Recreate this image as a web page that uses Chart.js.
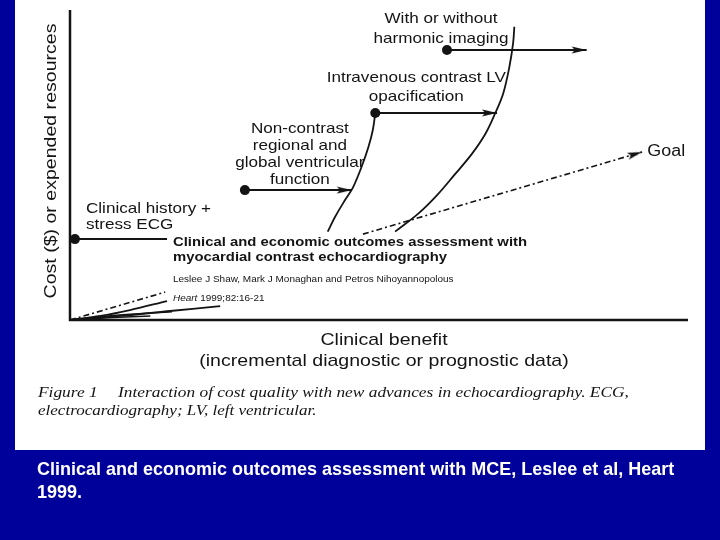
<!DOCTYPE html>
<html>
<head>
<meta charset="utf-8">
<script src="https://cdn.jsdelivr.net/npm/chart.js@4/dist/chart.umd.min.js"></script>
<style>
  html, body { margin: 0; padding: 0; background: #00009a; }
  canvas { display: block; }
</style>
</head>
<body>
<canvas id="chart" width="720" height="540"></canvas>
<script>
// Benefit (x) and cost (y) on a 0-100 scale.
// Steps: a dot where the test starts and an arrow to where it ends.
const STEP_LABELS = [
  ['Clinical history +', 'stress ECG'],
  ['Non-contrast', 'regional and', 'global ventricular', 'function'],
  ['Intravenous contrast LV', 'opacification'],
  ['With or without', 'harmonic imaging'],
];
const STEP_START_X = [0.8, 28.3, 49.4, 61.0];
const STEP_END_X = [15.7, 45.6, 69.1, 83.6];
const STEP_Y = [26.1, 41.9, 66.8, 87.1];
const STEP_ARROW = [false, true, true, true];

// cost curves; y: null is where the journal header hides the line
const CURVE_A = [
  { x: 0, y: 0 }, { x: 4.9, y: 1.3 }, { x: 9.7, y: 3.2 }, { x: 15.7, y: 6.1 },
  { x: 30, y: null },
  { x: 41.7, y: 28.5 }, { x: 42.9, y: 33.3 }, { x: 44.5, y: 38.7 }, { x: 45.8, y: 42.8 },
  { x: 47.2, y: 49.5 }, { x: 48.3, y: 55.9 }, { x: 49.0, y: 61.3 }, { x: 49.4, y: 66.8 },
];
const CURVE_B = [
  { x: 0, y: 0 }, { x: 8.1, y: 1.3 }, { x: 16.2, y: 2.9 }, { x: 24.3, y: 4.5 },
  { x: 40, y: null },
  { x: 52.6, y: 28.5 }, { x: 56.4, y: 34.4 }, { x: 59.4, y: 40.3 }, { x: 62.2, y: 46.8 },
  { x: 65.0, y: 53.5 }, { x: 67.2, y: 60.0 }, { x: 68.8, y: 66.7 }, { x: 70.1, y: 73.1 },
  { x: 71.1, y: 81.7 }, { x: 71.7, y: 89.3 }, { x: 71.9, y: 94.6 },
];
const CURVE_C = [{ x: 0, y: 0 }, { x: 8, y: 1.6 }, { x: 16.5, y: 2.7 }];
const CURVE_D = [{ x: 0, y: 0 }, { x: 7, y: 0.8 }, { x: 13, y: 1.3 }];
const GOAL = [
  { x: 0, y: 0 }, { x: 15.4, y: 9.0 },
  { x: 30, y: null },
  { x: 47.4, y: 27.7 }, { x: 92.6, y: 54.2 },
];

const AXIS_X_TITLE = ['Clinical benefit', '(incremental diagnostic or prognostic data)'];
const AXIS_Y_TITLE = 'Cost ($) or expended resources';
const HEADER = [
  'Clinical and economic outcomes assessment with',
  'myocardial contrast echocardiography',
  'Leslee J Shaw, Mark J Monaghan and Petros Nihoyannopolous',
];
const HEADER_REF = ['Heart', ' 1999;82:16-21'];
const CAPTION = [
  'Figure 1',
  'Interaction of cost quality with new advances in echocardiography. ECG,',
  'electrocardiography; LV, left ventricular.',
];
const SLIDE_TEXT = [
  'Clinical and economic outcomes assessment with MCE, Leslee et al, Heart',
  '1999.',
];

const INK = '#141414';
const BG = '#00009a';
const SANS = '"Liberation Sans", Arial, sans-serif';
const SERIF = '"Liberation Serif", "Times New Roman", serif';

// narrow arrow head, tip at the centre of the canvas
function arrowHead() {
  const c = document.createElement('canvas');
  c.width = 32; c.height = 10;
  const g = c.getContext('2d');
  g.fillStyle = INK;
  g.beginPath();
  g.moveTo(16, 5);
  g.lineTo(1, 1.5);
  g.lineTo(4, 5);
  g.lineTo(1, 8.5);
  g.closePath();
  g.fill();
  return c;
}
const HEAD = arrowHead();

// the scanned figure uses a wide face, so stretch text sideways
function wideText(ctx, text, x, y, sx, align) {
  ctx.save();
  ctx.translate(x, y);
  ctx.scale(sx, 1);
  ctx.textAlign = align;
  ctx.fillText(text, 0, 0);
  ctx.restore();
  return ctx.measureText(text).width * sx;
}

const stepSets = STEP_LABELS.map((_, i) => ({
  data: [{ x: STEP_START_X[i], y: STEP_Y[i] }, { x: STEP_END_X[i], y: STEP_Y[i] }],
  showLine: true,
  borderColor: INK,
  borderWidth: 2,
  backgroundColor: INK,
  pointStyle: ['circle', STEP_ARROW[i] ? HEAD : 'circle'],
  pointRadius: [5, STEP_ARROW[i] ? 8 : 0],
  pointBorderWidth: 0,
  clip: false,
}));

const curveSet = (data, width) => ({
  data,
  showLine: true,
  borderColor: INK,
  borderWidth: width,
  pointRadius: 0,
  tension: 0.35,
  spanGaps: false,
  clip: false,
});

const goalAngle = Math.atan2(-(54.2 * 3.1), 92.6 * 6.18) * 180 / Math.PI;

const goalSet = {
  data: GOAL,
  showLine: true,
  borderColor: INK,
  borderWidth: 1.6,
  borderDash: [6, 3, 2, 3],
  backgroundColor: INK,
  pointStyle: HEAD,
  pointRadius: GOAL.map((p, i) => (i === GOAL.length - 1 ? 8 : 0)),
  pointRotation: goalAngle,
  spanGaps: false,
  clip: false,
};

const decor = {
  id: 'decor',
  beforeDraw(chart) {
    const ctx = chart.ctx;
    ctx.save();
    ctx.fillStyle = BG;
    ctx.fillRect(0, 0, 720, 540);
    ctx.fillStyle = '#ffffff';
    ctx.fillRect(15, 0, 690, 450);
    ctx.restore();
  },
  beforeDatasetsDraw(chart) {
    const { ctx, chartArea: a } = chart;
    ctx.save();
    ctx.strokeStyle = INK;
    ctx.lineWidth = 2.5;
    ctx.beginPath();
    ctx.moveTo(a.left, a.top);
    ctx.lineTo(a.left, a.bottom);
    ctx.lineTo(a.right, a.bottom);
    ctx.stroke();
    ctx.restore();
  },
  afterDraw(chart) {
    const { ctx, scales: { x, y } } = chart;
    ctx.save();
    ctx.fillStyle = INK;
    ctx.textBaseline = 'middle';

    // step labels, placed from their dots
    ctx.font = '15px ' + SANS;
    const dx = STEP_START_X.map(v => x.getPixelForValue(v));
    const dy = STEP_Y.map(v => y.getPixelForValue(v));
    const sx = 1.14;
    STEP_LABELS[0].forEach((t, k) => wideText(ctx, t, dx[0] + 11, dy[0] - 30 + k * 16, sx, 'left'));
    STEP_LABELS[1].forEach((t, k) => wideText(ctx, t, dx[1] + 55, dy[1] - 61 + k * 17, sx, 'center'));
    STEP_LABELS[2].forEach((t, k) => wideText(ctx, t, dx[2] + 41, dy[2] - 35 + k * 19, sx, 'center'));
    STEP_LABELS[3].forEach((t, k) => wideText(ctx, t, dx[3] - 6, dy[3] - 31 + k * 20, sx, 'center'));

    // goal
    const gEnd = GOAL[GOAL.length - 1];
    ctx.font = '16px ' + SANS;
    wideText(ctx, 'Goal', x.getPixelForValue(gEnd.x) + 5, y.getPixelForValue(gEnd.y), 1.12, 'left');

    // journal header pasted over the plot
    ctx.font = 'bold 13.5px ' + SANS;
    wideText(ctx, HEADER[0], 173, 242, 1.1, 'left');
    wideText(ctx, HEADER[1], 173, 257, 1.1, 'left');
    ctx.font = '9.5px ' + SANS;
    wideText(ctx, HEADER[2], 173, 279, 1.05, 'left');
    ctx.font = 'italic 9.5px ' + SANS;
    const w = wideText(ctx, HEADER_REF[0], 173, 298, 1.05, 'left');
    ctx.font = '9.5px ' + SANS;
    wideText(ctx, HEADER_REF[1], 173 + w, 298, 1.05, 'left');

    // axis titles
    ctx.font = '17px ' + SANS;
    wideText(ctx, AXIS_X_TITLE[0], 384, 340, 1.15, 'center');
    wideText(ctx, AXIS_X_TITLE[1], 384, 361, 1.15, 'center');
    ctx.save();
    ctx.translate(51, 161);
    ctx.rotate(-Math.PI / 2);
    wideText(ctx, AXIS_Y_TITLE, 0, 0, 1.15, 'center');
    ctx.restore();

    // figure caption
    ctx.font = 'italic 15.5px ' + SERIF;
    wideText(ctx, CAPTION[0], 38, 393, 1.12, 'left');
    wideText(ctx, CAPTION[1], 118, 393, 1.12, 'left');
    wideText(ctx, CAPTION[2], 38, 411, 1.1, 'left');

    // slide text
    ctx.fillStyle = '#ffffff';
    ctx.font = 'bold 18.5px ' + SANS;
    wideText(ctx, SLIDE_TEXT[0], 37, 470, 0.973, 'left');
    wideText(ctx, SLIDE_TEXT[1], 37, 493, 0.973, 'left');
    ctx.restore();
  },
};

new Chart(document.getElementById('chart'), {
  type: 'scatter',
  data: {
    datasets: [
      curveSet(CURVE_A, 1.8),
      curveSet(CURVE_B, 1.8),
      curveSet(CURVE_C, 1.5),
      curveSet(CURVE_D, 1.5),
      goalSet,
      ...stepSets,
    ],
  },
  options: {
    responsive: false,
    devicePixelRatio: 1,
    animation: false,
    events: [],
    layout: { padding: { left: 70, right: 32, top: 10, bottom: 220 } },
    scales: {
      x: { type: 'linear', min: 0, max: 100, display: false },
      y: { type: 'linear', min: 0, max: 100, display: false },
    },
    plugins: { legend: { display: false }, tooltip: { enabled: false } },
  },
  plugins: [decor],
});
</script>
</body>
</html>
